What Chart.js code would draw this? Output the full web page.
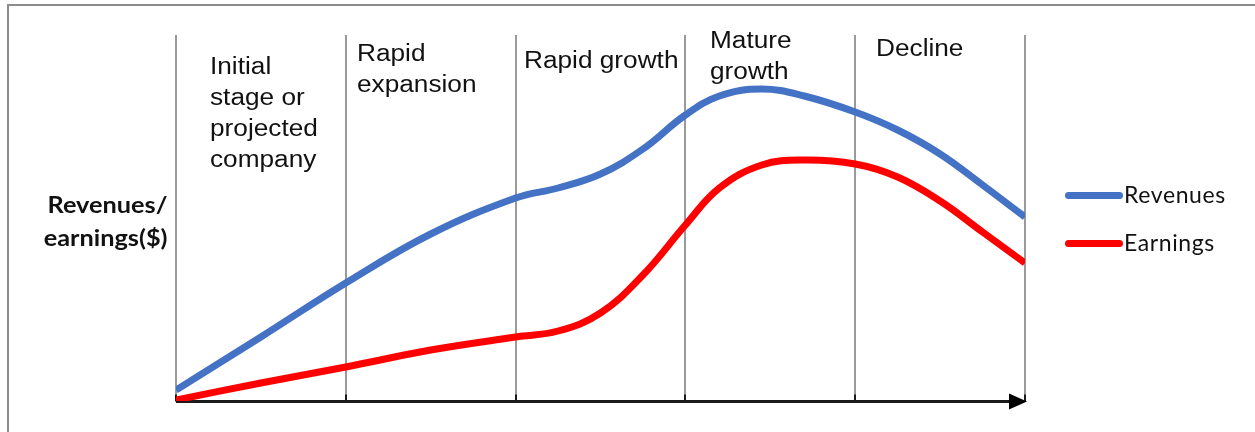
<!DOCTYPE html>
<html>
<head>
<meta charset="utf-8">
<script src="https://cdn.jsdelivr.net/npm/chart.js@4.4.1/dist/chart.umd.min.js"></script>
<style>
  body { margin: 0; background: #fff; }
  #wrap { position: relative; width: 1255px; height: 432px; overflow: hidden; }
  #frame { position: absolute; left: 7px; top: 4px; width: 1300px; height: 500px;
           border-left: 2px solid #8c8c8c; border-top: 2px solid #8c8c8c; }
  #wrap canvas { position: absolute; left: 0; top: 0; }
  .stage { position: absolute; font: 23px "Liberation Sans", Arial, sans-serif; line-height: 31px;
           color: #111; transform: scaleX(1.14); transform-origin: 0 0; white-space: nowrap; }
  #ytitle { position: absolute; right: 1087px; top: 188px; font: bold 23px Lato, sans-serif;
            line-height: 33px; text-align: right; color: #111; white-space: nowrap;
            transform: scaleX(1.1); transform-origin: 100% 0; }
  .leg { position: absolute; left: 1065px; height: 28px; font: 23px Lato, sans-serif; line-height: 28px;
         color: #111; white-space: nowrap; letter-spacing: 0.6px; }
  .leg i { display: inline-block; width: 58px; height: 7px; border-radius: 4px; vertical-align: 0; margin-right: 1px;
           position: relative; top: -4px; }
</style>
</head>
<body>
<div id="wrap">
  <div id="frame"></div>
  <canvas id="chart" width="1255" height="432"></canvas>
  <div id="ytitle">Revenues/<br>earnings($)</div>
</div>
<script>
// life-cycle stages (x = stage index, one unit per stage)
const stageLabels = [
  ['Initial', 'stage or', 'projected', 'company'],
  ['Rapid', 'expansion'],
  ['Rapid growth'],
  ['Mature', 'growth'],
  ['Decline'],
];
const stagePos = [0, 1, 2, 3, 4, 5];

const seriesNames = ['Revenues', 'Earnings'];
const seriesColors = ['#4472C4', '#FF0000'];

const xPoints = [0, 0.5, 1, 1.5, 2, 2.25, 2.5, 2.75, 3, 3.2, 3.45, 3.7, 4, 4.25, 4.5, 4.75, 5];
const revenues = [11, 64, 118, 167, 203, 213, 227, 252, 286, 305, 312, 305, 289, 271, 247, 216, 184];
const earnings = [1, 18, 34, 51, 64, 70, 88, 126, 176, 213, 236, 241, 237, 224, 200, 169, 138];
const yMax = 366;

// label placement inside each stage: [dx from stage start, top]
const labelOffsets = [[34, 50.5], [11, 38], [8, 44.5], [25, 25], [21, 32.5]];
const legendTops = [180, 228];

const toPoints = ys => ys.map((y, i) => ({ x: xPoints[i], y }));

const axisArrow = {
  id: 'axisArrow',
  beforeDatasetsDraw(chart) {
    const { ctx, chartArea: a, scales: { x } } = chart;
    const y0 = a.bottom + 0.5;
    ctx.save();
    ctx.strokeStyle = '#1a1a1a';
    ctx.lineWidth = 2;
    stagePos.forEach(v => {
      const px = Math.round(x.getPixelForValue(v));
      ctx.beginPath();
      ctx.moveTo(px, y0 - 7);
      ctx.lineTo(px, y0);
      ctx.stroke();
    });
    ctx.lineWidth = 3;
    ctx.beginPath();
    ctx.moveTo(a.left, y0);
    ctx.lineTo(a.right - 12, y0);
    ctx.stroke();
    ctx.fillStyle = '#000';
    ctx.beginPath();
    ctx.moveTo(a.right + 2, y0);
    ctx.lineTo(a.right - 16, y0 - 8);
    ctx.lineTo(a.right - 16, y0 + 8);
    ctx.closePath();
    ctx.fill();
    ctx.restore();
  }
};

const chart = new Chart(document.getElementById('chart'), {
  type: 'line',
  data: {
    datasets: [
      { label: seriesNames[0], data: toPoints(revenues), borderColor: seriesColors[0] },
      { label: seriesNames[1], data: toPoints(earnings), borderColor: seriesColors[1] },
    ]
  },
  options: {
    responsive: false,
    animation: false,
    layout: { padding: { left: 176, right: 230, top: 35, bottom: 31 } },
    elements: {
      line: { borderWidth: 7, tension: 0.4, borderCapStyle: 'butt', borderJoinStyle: 'round', fill: false },
      point: { radius: 0 }
    },
    scales: {
      x: {
        type: 'linear', min: 0, max: 5,
        ticks: { display: false, stepSize: 1 },
        grid: { color: '#9a9a9a', lineWidth: 2, drawTicks: false },
        border: { display: false }
      },
      y: { display: false, min: 0, max: yMax }
    },
    plugins: { legend: { display: false }, tooltip: { enabled: false } }
  },
  plugins: [axisArrow]
});

const wrap = document.getElementById('wrap');
const xs = chart.scales.x;
stageLabels.forEach((lines, i) => {
  const d = document.createElement('div');
  d.className = 'stage';
  d.style.left = (xs.getPixelForValue(stagePos[i]) + labelOffsets[i][0]) + 'px';
  d.style.top = labelOffsets[i][1] + 'px';
  d.innerHTML = lines.join('<br>');
  wrap.appendChild(d);
});
chart.data.datasets.forEach((ds, i) => {
  const d = document.createElement('div');
  d.className = 'leg';
  d.style.top = legendTops[i] + 'px';
  d.innerHTML = '<i style="background:' + ds.borderColor + '"></i>' + ds.label;
  wrap.appendChild(d);
});
</script>
</body>
</html>
